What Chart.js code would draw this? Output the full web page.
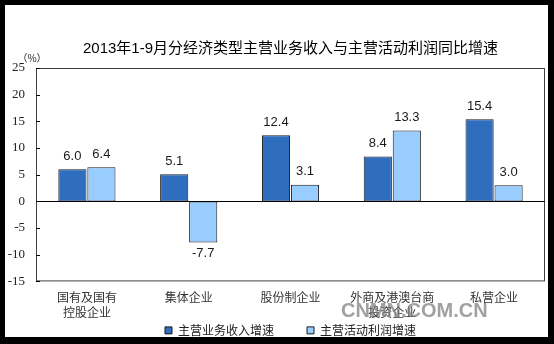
<!DOCTYPE html>
<html>
<head>
<meta charset="utf-8">
<script src="https://cdn.jsdelivr.net/npm/chart.js@4.4.0/dist/chart.umd.min.js"></script>
<style>
    html, body { margin: 0; padding: 0; background: #000; }
    body { width: 554px; height: 344px; position: relative; overflow: hidden; }
    #grafico { position: absolute; left: 5px; top: 5px; background: #fff; }
</style>
</head>
<body>
<canvas id="grafico" width="543" height="332"></canvas>
<script>
// datos
const categories = [['国有及国有', '控股企业'], '集体企业', '股份制企业', ['外商及港澳台商', '投资企业'], '私营企业'];
const revenueGrowth = [6.0, 5.1, 12.4, 8.4, 15.4];
const profitGrowth = [6.4, -7.7, 3.1, 13.3, 3.0];
const yTicks = [-15, -10, -5, 0, 5, 10, 15, 20, 25];
const seriesNames = ['主营业务收入增速', '主营活动利润增速'];

const sans = "'Liberation Sans', 'Noto Sans CJK SC', sans-serif";

// marco, marcas interiores, etiquetas de valor, unidad y marca de agua
const extras = {
    id: 'extras',
    afterDatasetsDraw(chart) {
        const { ctx, chartArea: a, scales: { y } } = chart;
        ctx.save();
        ctx.lineWidth = 1;
        ctx.strokeStyle = '#404040';
        ctx.strokeRect(a.left + 0.5, a.top + 0.5, a.right - a.left - 1, a.bottom - a.top - 1);

        ctx.strokeStyle = '#000';
        yTicks.forEach(v => {
            const py = Math.round(y.getPixelForValue(v)) + 0.5;
            ctx.beginPath();
            ctx.moveTo(a.left, py);
            ctx.lineTo(v === 0 ? a.right : a.left + 4, py);
            ctx.stroke();
        });

        ctx.fillStyle = '#1a1a1a';
        ctx.font = '13px ' + sans;
        ctx.textAlign = 'center';
        ctx.textBaseline = 'middle';
        chart.data.datasets.forEach((ds, i) => {
            chart.getDatasetMeta(i).data.forEach((bar, j) => {
                const v = ds.data[j];
                ctx.fillText(v.toFixed(1), bar.x, v >= 0 ? bar.y - 13 : bar.y + 11);
            });
        });

        ctx.font = "10px 'Noto Sans CJK SC'";
        ctx.fillText('（%）', a.left - 4, a.top - 10);
        ctx.restore();
    },
    afterDraw(chart) {
        // marca de agua encima de las etiquetas
        const ctx = chart.ctx;
        ctx.save();
        ctx.font = 'bold 20px ' + sans;
        ctx.fillStyle = 'rgba(125, 125, 125, 0.72)';
        ctx.textAlign = 'left';
        ctx.textBaseline = 'middle';
        ctx.fillText('CNMN.COM.CN', 336, 306);
        ctx.restore();
    }
};

new Chart(document.getElementById('grafico').getContext('2d'), {
    type: 'bar',
    data: {
        labels: categories,
        datasets: [
            { label: seriesNames[0], data: revenueGrowth, backgroundColor: '#2F6DBF' },
            { label: seriesNames[1], data: profitGrowth, backgroundColor: '#99CCFF' }
        ]
    },
    options: {
        responsive: false,
        animation: false,
        layout: { padding: { left: 0, right: 3, top: 0, bottom: -9.4 } },
        datasets: {
            bar: {
                borderColor: '#1a1a1a',
                borderWidth: 1,
                borderSkipped: false,
                categoryPercentage: 0.57,
                barPercentage: 0.97
            }
        },
        scales: {
            x: {
                grid: { display: false, drawTicks: false },
                border: { display: false },
                ticks: { color: '#333', padding: 9, font: { size: 12, family: "'Noto Sans CJK SC'", lineHeight: 1.25 } },
                afterFit: s => { s.height = 40; }
            },
            y: {
                min: -15,
                max: 25,
                afterBuildTicks: s => { s.ticks = yTicks.map(v => ({ value: v })); },
                grid: { display: false, drawTicks: false },
                border: { display: false },
                ticks: { color: '#222', padding: 11, font: { size: 13, family: "'Liberation Serif'" } },
                afterFit: s => { s.width = 31; }
            }
        },
        plugins: {
            title: {
                display: true,
                fullSize: false,
                text: '2013年1-9月分经济类型主营业务收入与主营活动利润同比增速',
                color: '#000',
                font: { size: 15, weight: 'normal', family: sans, lineHeight: 1.2 },
                padding: { top: 35, bottom: 10 }
            },
            legend: {
                position: 'bottom',
                fullSize: false,
                labels: {
                    color: '#222',
                    boxWidth: 7,
                    boxHeight: 7,
                    padding: 3,
                    font: { size: 12, family: "'Noto Sans CJK SC'" },
                    // hueco entre las dos entradas
                    generateLabels: chart => Chart.defaults.plugins.legend.labels.generateLabels(chart)
                        .map((item, i) => ({ ...item, text: i === 0 ? item.text + '　　\u2002' : item.text }))
                }
            },
            tooltip: { enabled: false }
        }
    },
    plugins: [extras]
});
</script>
</body>
</html>
